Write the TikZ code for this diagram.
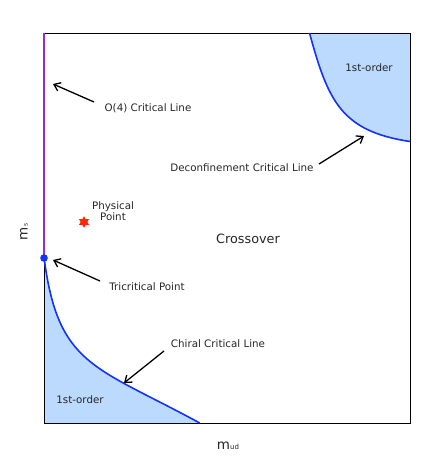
\documentclass[tikz,border=0pt]{standalone}
\usepackage{fontspec}
\setmainfont{DejaVu Sans}
\usetikzlibrary{arrows.meta,shapes.geometric}
\definecolor{fillblue}{RGB}{187,218,253}
\definecolor{lineblue}{RGB}{20,50,250}
\definecolor{purp}{RGB}{155,45,195}
\definecolor{starred}{RGB}{255,40,10}
\begin{document}
\begin{tikzpicture}[x=1pt,y=-1pt,
  lbl/.style={font=\fontsize{10.3}{12}\selectfont, inner sep=0pt, text=black!85},
  arr/.style={-{Straight Barb[length=6pt,width=9pt]}, line width=1.3pt},
  crit/.style={lineblue, line width=1.6pt}]
\useasboundingbox (0,0) rectangle (444,468);
% fills
\fill[fillblue] (44,257) .. controls (57.9,366.1) and (94.3,365.6) .. (199.7,423) -- (44,423) -- cycle;
\fill[fillblue] (309.5,33) .. controls (328,100.6) and (340.8,131.1) .. (410,141.5) -- (410,33) -- cycle;
% frame
\draw[line width=0.9pt] (44,33) rectangle (410,423);
% critical lines
\draw[crit] (44,257) .. controls (57.9,366.1) and (94.3,365.6) .. (199.7,423);
\draw[crit] (309.5,33) .. controls (328,100.6) and (340.8,131.1) .. (410,141.5);
\draw[purp, line width=1.6pt] (44,33) -- (44,258);
\coordinate (tri) at (44,258);
\fill[lineblue] (tri) circle[radius=3.8pt];
% physical point
\node[star, star points=6, star point ratio=1.7, fill=starred, minimum size=11.5pt, inner sep=0pt] (phys) at (84,222) {};
\node[lbl, align=center] (physlbl) at (113,211) {Physical\\[-1pt]Point};
% labels
\node[lbl] (o4) at (148,108) {O(4) Critical Line};
\node[lbl] (dec) at (242,168) {Deconfinement Critical Line};
\node[lbl] (tcp) at (147,287) {Tricritical Point};
\node[lbl] (chi) at (218,344) {Chiral Critical Line};
\node[lbl] (fo1) at (80,400) {1st-order};
\node[lbl] (fo2) at (369,68) {1st-order};
\node[inner sep=0pt, font=\fontsize{12.8}{14}\selectfont, text=black!85] (cross) at (248,239) {Crossover};
% axis labels
\node[inner sep=0pt, rotate=90, text=black!85] (ms) at (24,232) {{\fontsize{13.5}{13}\selectfont m}{\fontsize{6}{6}\selectfont s}};
\node[inner sep=0pt, text=black!85] (mud) at (228,446) {{\fontsize{13.5}{13}\selectfont m}{\fontsize{7}{7}\selectfont ud}};
% arrows
\coordinate (o4t) at (94,102);   \coordinate (o4h) at (53,84);
\coordinate (dect) at (319,164); \coordinate (dech) at (364,136);
\coordinate (tcpt) at (100,281); \coordinate (tcph) at (53,260);
\coordinate (chit) at (164,351); \coordinate (chih) at (124,383);
\draw[arr] (o4t) -- (o4h);
\draw[arr] (dect) -- (dech);
\draw[arr] (tcpt) -- (tcph);
\draw[arr] (chit) -- (chih);
\end{tikzpicture}
\end{document}
